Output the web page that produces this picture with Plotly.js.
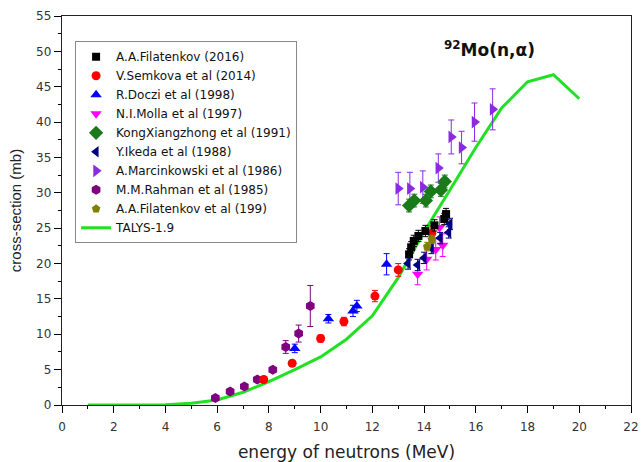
<!DOCTYPE html>
<html>
<head>
<meta charset="utf-8">
<script src="https://cdn.plot.ly/plotly-3.0.1.min.js"></script>
<style>html,body{margin:0;padding:0;background:#fff;}#chart{width:641px;height:462px;}</style>
</head>
<body>
<div id="chart"></div>
<script>
// A.A.Filatenkov (2016)
const fil16X = [13.42, 13.5, 13.6, 13.78, 14.05, 14.4, 14.78, 14.85];
const fil16Y = [21.3, 22.3, 23.2, 23.9, 24.6, 25.4, 26.3, 27.0];
const fil16E = [0.8, 0.8, 0.8, 0.8, 0.8, 0.8, 0.8, 0.8];
// V.Semkova et al (2014)
const semX = [7.8, 8.9, 10.0, 10.9, 12.1, 13.0, 14.3];
const semY = [3.6, 5.9, 9.4, 11.8, 15.4, 19.1, 24.3];
const semE = [0.4, 0.4, 0.5, 0.6, 0.8, 0.9, 1.0];
// R.Doczi et al (1998)
const dozX = [9.0, 10.3, 11.25, 11.4, 12.55];
const dozY = [8.0, 12.2, 13.3, 14.0, 19.9];
const dozE = [0.6, 0.6, 0.8, 0.8, 1.5];
// N.I.Molla et al (1997)
const molX = [13.75, 14.1, 14.45, 14.6, 14.72];
const molY = [18.5, 20.6, 22.0, 25.1, 22.6];
const molE = [1.5, 1.5, 1.5, 1.5, 1.6];
// KongXiangzhong et al (1991)
const kongX = [13.42, 13.62, 14.07, 14.26, 14.65, 14.8];
const kongY = [28.2, 28.9, 28.9, 30.2, 30.4, 31.6];
const kongE = [0.9, 0.9, 0.9, 0.9, 0.9, 0.9];
// Y.Ikeda et al (1988)
const ikeX = [13.38, 13.75, 14.0, 14.28, 14.62, 14.95, 15.0];
const ikeY = [20.0, 19.8, 20.8, 22.2, 23.6, 24.4, 25.6];
const ikeE = [0.8, 0.8, 0.8, 0.8, 0.8, 0.8, 0.8];
// A.Marcinkowski et al (1986)
const marX = [13.0, 13.45, 13.95, 14.55, 15.05, 15.45, 15.95, 16.65];
const marY = [30.6, 30.6, 30.8, 33.5, 37.9, 36.4, 40.0, 41.8];
const marE = [2.3, 2.3, 2.3, 2.0, 2.4, 2.3, 2.7, 2.9];
// M.M.Rahman et al (1985)
const rahX = [5.93, 6.5, 7.05, 7.55, 8.15, 8.65, 9.15, 9.6];
const rahY = [1.0, 1.9, 2.6, 3.6, 5.0, 8.2, 10.1, 14.0];
const rahE = [0, 0, 0, 0, 0, 0.9, 1.2, 2.9];
// A.A.Filatenkov et al (199)
const fil9X = [14.12, 14.3];
const fil9Y = [22.4, 23.4];
const fil9E = [0.6, 0.6];
// TALYS-1.9
const talX = [1, 2, 3, 4, 5, 6, 7, 8, 9, 10, 11, 12, 13, 14, 15, 16, 17, 18, 19, 20];
const talY = [0, 0, 0, 0.05, 0.25, 0.7, 1.8, 3.3, 5.0, 6.8, 9.3, 12.6, 18.0, 24.5, 30.4, 36.4, 42.0, 45.7, 46.7, 43.3];

function pts(name, x, y, e, color, symbol, size) {
  return {
    type: 'scatter', mode: 'markers', name: name, x: x, y: y,
    marker: {color: color, symbol: symbol, size: size, line: {width: 0}},
    error_y: {type: 'data', array: e, visible: true, color: color, thickness: 1, width: 3}
  };
}

const traces = [
  {type: 'scatter', mode: 'lines', name: 'TALYS-1.9', x: talX, y: talY,
   line: {color: '#22e022', width: 3}, showlegend: false},
  pts('A.Marcinkowski et al (1986)', marX, marY, marE, '#8a2be2', 'triangle-right', 11),
  pts('KongXiangzhong et al (1991)', kongX, kongY, kongE, '#1a7a1a', 'diamond', 11),
  pts('M.M.Rahman et al (1985)', rahX, rahY, rahE, '#800080', 'hexagon', 10),
  pts('V.Semkova et al (2014)', semX, semY, semE, '#ff0000', 'circle', 9),
  pts('R.Doczi et al (1998)', dozX, dozY, dozE, '#0000ff', 'triangle-up', 10),
  pts('N.I.Molla et al (1997)', molX, molY, molE, '#ff00ff', 'triangle-down', 10),
  pts('A.A.Filatenkov (2016)', fil16X, fil16Y, fil16E, '#000000', 'square', 8),
  pts('Y.Ikeda et al (1988)', ikeX, ikeY, ikeE, '#000080', 'triangle-left', 10),
  pts('A.A.Filatenkov et al (199)', fil9X, fil9Y, fil9E, '#808000', 'pentagon', 9),
];
const order = ['A.A.Filatenkov (2016)', 'V.Semkova et al (2014)', 'R.Doczi et al (1998)',
  'N.I.Molla et al (1997)', 'KongXiangzhong et al (1991)', 'Y.Ikeda et al (1988)',
  'A.Marcinkowski et al (1986)', 'M.M.Rahman et al (1985)', 'A.A.Filatenkov et al (199)'];
traces.forEach(t => { if (t.mode === 'markers') t.legendrank = order.indexOf(t.name) + 1; });
traces.push({type: 'scatter', mode: 'lines', name: 'TALYS-1.9', x: [null], y: [null],
  line: {color: '#22e022', width: 3}, legendrank: 20});

const F = 'DejaVu Sans, Arial, sans-serif';
const layout = {
  width: 641, height: 462,
  margin: {l: 62, r: 10, t: 16, b: 57},
  paper_bgcolor: '#fff', plot_bgcolor: '#fff',
  font: {family: F, color: '#222'},
  showlegend: true,
  legend: {x: 0.023, y: 0.935, xanchor: 'left', yanchor: 'top',
    bordercolor: '#888', borderwidth: 1, bgcolor: '#fff',
    font: {family: F, size: 12, color: '#111'}, tracegroupgap: 0, itemwidth: 30},
  xaxis: {range: [0, 22], dtick: 2, ticks: 'outside', ticklen: 7, tickcolor: '#000',
    showline: true, linecolor: '#222', linewidth: 1.2, mirror: true, showgrid: false, zeroline: false,
    tickfont: {family: F, size: 12, color: '#333'}, ticklabelstandoff: 3,
    minor: {ticks: 'outside', dtick: 1, ticklen: 3, tickcolor: '#000'},
    title: {text: 'energy of neutrons (MeV)', font: {family: F, size: 17, color: '#222'}, standoff: 14}},
  yaxis: {range: [0, 55], dtick: 5, ticks: 'outside', ticklen: 7, tickcolor: '#000',
    showline: true, linecolor: '#222', linewidth: 1.2, mirror: true, showgrid: false, zeroline: false,
    tickfont: {family: F, size: 12, color: '#333'},
    minor: {ticks: 'outside', dtick: 2.5, ticklen: 3, tickcolor: '#000'},
    title: {text: 'cross-section (mb)', font: {family: 'Liberation Sans, Arial, sans-serif', size: 15, color: '#222'}, standoff: 10}},
  annotations: [{xref: 'paper', yref: 'paper', x: 0.668, y: 0.915, xanchor: 'left', yanchor: 'middle',
    text: '<b><sup>92</sup>Mo(n,α)</b>', showarrow: false, font: {family: F, size: 17, color: '#111'}}]
};

Plotly.newPlot('chart', traces, layout, {displayModeBar: false, staticPlot: true});
</script>
</body>
</html>
